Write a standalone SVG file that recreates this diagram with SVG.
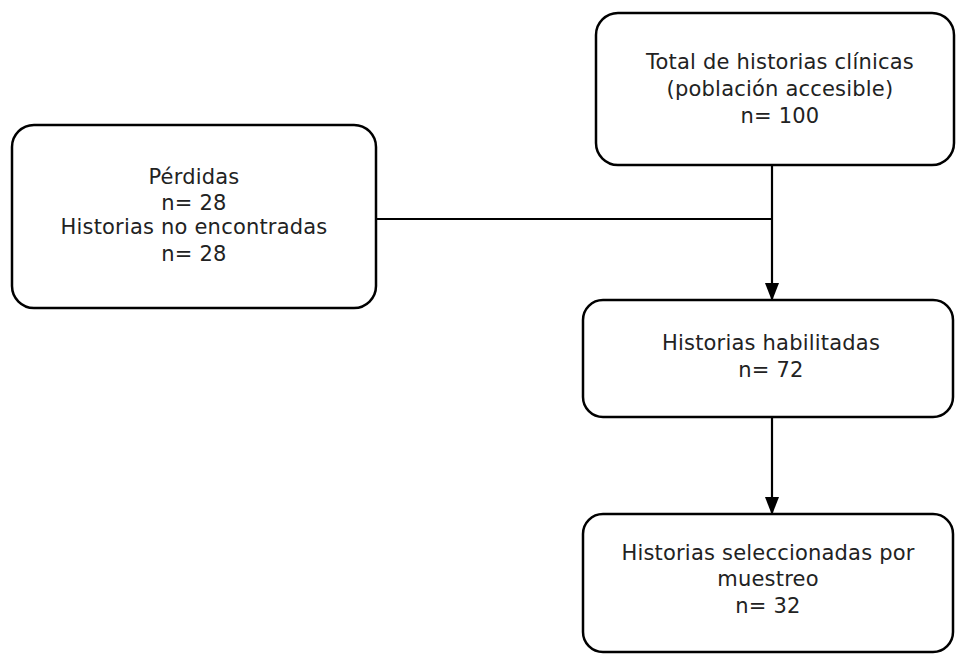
<svg xmlns="http://www.w3.org/2000/svg" width="956" height="654" viewBox="0 0 956 654">
<defs>
<style>
.box{fill:#fff;stroke:#000;stroke-width:2.5}
.t{font-family:"DejaVu Sans",Verdana,sans-serif;font-size:21px;letter-spacing:0.2px;fill:#222;text-anchor:middle}
.c{stroke:#000;stroke-width:2.2;fill:none}
</style>
<marker id="ah" markerWidth="18" markerHeight="14" refX="17" refY="7" orient="auto" markerUnits="userSpaceOnUse">
<path d="M0,0 L18,7 L0,14 Z" fill="#000"/>
</marker>
</defs>
<rect width="956" height="654" fill="#fff"/>
<g id="connectors">
<path class="c" d="M772,165 V300" marker-end="url(#ah)"/>
<path class="c" d="M376,219 H772"/>
<path class="c" d="M772,417 V514" marker-end="url(#ah)"/>
</g>
<g id="total">
<rect class="box" x="596" y="13" width="358" height="152" rx="22"/>
<text class="t" x="780" y="69">Total de historias clínicas</text>
<text class="t" x="780" y="96">(población accesible)</text>
<text class="t" x="780" y="123">n= 100</text>
</g>
<g id="perdidas">
<rect class="box" x="12" y="125" width="364" height="183" rx="22"/>
<text class="t" x="194" y="184">Pérdidas</text>
<text class="t" x="194" y="210">n= 28</text>
<text class="t" x="194" y="234">Historias no encontradas</text>
<text class="t" x="194" y="261">n= 28</text>
</g>
<g id="habilitadas">
<rect class="box" x="583" y="300" width="370" height="117" rx="20"/>
<text class="t" x="771" y="350">Historias habilitadas</text>
<text class="t" x="771" y="377">n= 72</text>
</g>
<g id="seleccionadas">
<rect class="box" x="583" y="514" width="370" height="138" rx="20"/>
<text class="t" x="768" y="560">Historias seleccionadas por</text>
<text class="t" x="768" y="586">muestreo</text>
<text class="t" x="768" y="613">n= 32</text>
</g>
</svg>
